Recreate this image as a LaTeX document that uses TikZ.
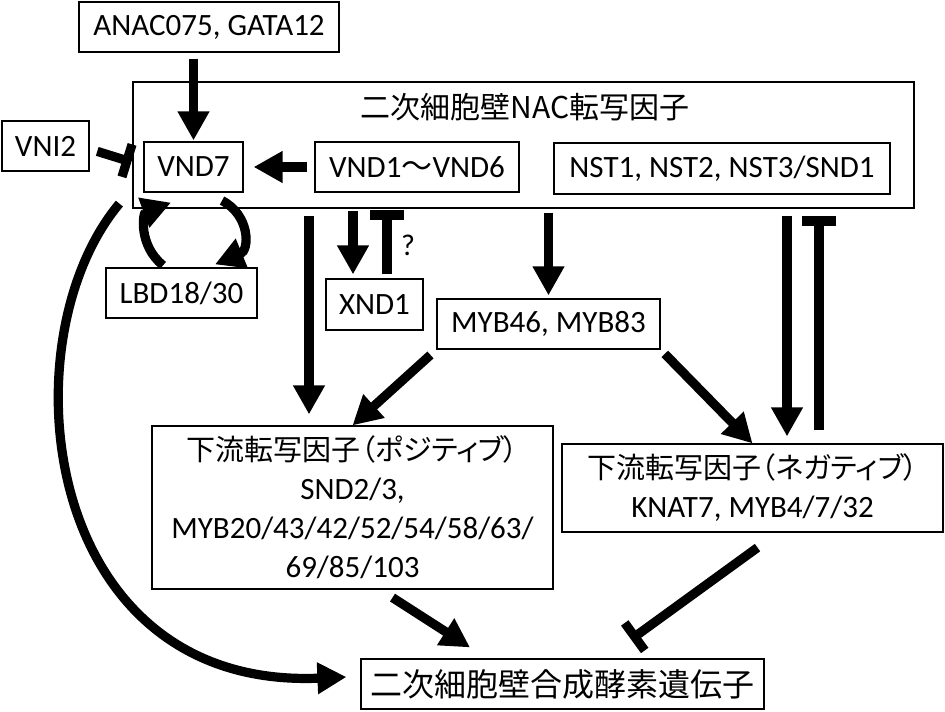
\documentclass[tikz,border=0pt]{standalone}
\usepackage{fontspec}
\setmainfont{Carlito}
\newfontfamily\cjk{Noto Sans CJK JP}
\newfontfamily\cjkp[RawFeature=+palt]{Noto Sans CJK JP}
\usetikzlibrary{calc,arrows.meta}

\begin{document}
\begin{tikzpicture}[x=0.5pt,y=-0.5pt,
  box/.style={draw,line width=0.6pt,inner sep=0pt,align=center,font=\fontsize{15.5}{19.5}\selectfont},
  act/.style={line width=4.6pt,-{Triangle[width=15pt,length=14.5pt]}},
  inh/.style={line width=4.6pt,-{Bar[width=17pt]}}]
  \useasboundingbox (0,0) rectangle (945,711);
  \node[box,minimum width=390.5pt,minimum height=63pt] (nac) at (523.5,145) {};
  \node[font=\cjk\fontsize{15}{18}\selectfont] (nactitle) at (525,107) {二次細胞壁NAC転写因子};
  \node[box,minimum width=130pt,minimum height=25pt] (anac) at (209,27) {ANAC075, GATA12};
  \node[box,minimum width=43.5pt,minimum height=25pt] (vni2) at (45.5,146) {VNI2};
  \node[box,minimum width=49.5pt,minimum height=25pt] (vnd7) at (193.5,167) {VND7};
  \node[box,minimum width=102pt,minimum height=25pt] (vnd16) at (417,167) {VND1{\cjk 〜}VND6};
  \node[box,minimum width=168pt,minimum height=25.5pt] (nst) at (722,168.5) {NST1, NST2, NST3/SND1};
  \node[box,minimum width=75.5pt,minimum height=25pt] (lbd) at (181.5,293) {LBD18/30};
  \node[box,minimum width=48.5pt,minimum height=25.5pt] (xnd) at (374.5,304.5) {XND1};
  \node[box,minimum width=111.5pt,minimum height=25pt] (myb) at (548.5,324) {MYB46, MYB83};
  \node[box,minimum width=200.5pt,minimum height=81.5pt] (pos) at (352.5,507.5)
    {{\cjkp\fontsize{14.5}{18}\selectfont 下流転写因子（ポジティブ）}\\
     SND2/3,\\MYB20/43/42/52/54/58/63/\\69/85/103};
  \node[box,minimum width=190.5pt,minimum height=44pt] (neg) at (752.5,488)
    {{\cjkp\fontsize{14.5}{18}\selectfont 下流転写因子（ネガティブ）}\\
     KNAT7, MYB4/7/32};
  \node[box,minimum width=201.5pt,minimum height=25pt,font=\cjk\fontsize{16}{20}\selectfont] (fin) at (562.5,684) {二次細胞壁合成酵素遺伝子};
  \draw[act,shorten <=3pt,shorten >=0.5pt] (vnd7.north |- anac.south) -- (vnd7.north);
  \draw[act,shorten <=3.5pt,shorten >=5pt] (vnd16.west) -- (vnd7.east);
  \draw[inh,shorten <=4pt] ($(vni2.east)+(0,3)$) -- ($(vnd7.west)+(-12,-5)$);
  \draw[act] ($(vnd7.south west)+(-24,11)$) .. controls (5,340) and (40,690) .. ($(fin.west)+(-14,-7)$);
  \draw[act] ($(lbd.north)+(-18.5,-2)$) .. controls (138,245) and (143,213) .. ($(vnd7.south)+(-22.5,10)$);
  \draw[act] ($(vnd7.south)+(28.5,8)$) .. controls (250,215) and (250,250) .. ($(lbd.north)+(33.5,-3)$);
  \draw[act] ($(xnd.north)+(-21.5,-67)$) -- ($(xnd.north)+(-21.5,-4)$);
  \draw[inh] ($(xnd.north)+(12.5,-4)$) -- ($(xnd.north)+(12.5,-68)$);
  \node[font=\fontsize{15}{17}\selectfont] (qmark) at (408,245) {?};
  \draw[act] ($(pos.north)+(-43.5,-209)$) -- ($(pos.north)+(-43.5,-11)$);
  \draw[act,shorten <=2pt,shorten >=1.5pt] (myb.north |- nac.south) -- (myb.north);
  \draw[act,shorten <=4pt] (myb.south west) -- (pos.north);
  \draw[act,shorten <=3pt] (myb.south east) -- (neg.north);
  \draw[act] ($(neg.north)+(34.5,-227)$) -- ($(neg.north)+(34.5,-7)$);
  \draw[inh] ($(neg.north)+(66.5,-13)$) -- ($(neg.north)+(66.5,-227)$);
  \draw[act] ($(pos.south)+(40,8)$) -- ($(fin.north)+(-92.5,-11)$);
  \draw[inh] ($(neg.south)+(5,15)$) -- ($(fin.north)+(68.5,-19)$);
\end{tikzpicture}
\end{document}
